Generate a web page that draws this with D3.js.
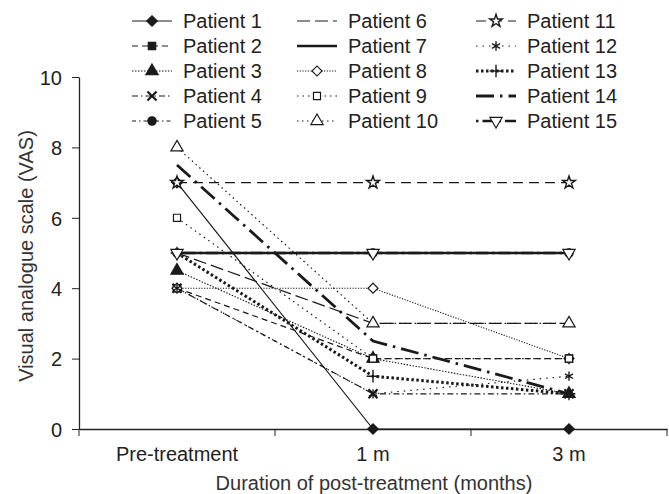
<!DOCTYPE html>
<head>
  <style>
    body { margin: 0; background: #fff; }
    text { font-family: "Liberation Sans", Arial, sans-serif; fill: #222; }
  </style>
</head>
<body>
  <svg id="svg"></svg>
</body>
<script src="https://cdn.jsdelivr.net/npm/d3@7/dist/d3.min.js"></script>
<script>
  var width = 669,
    height = 494;

  // data
  var categories = ["Pre-treatment", "1 m", "3 m"];
  var patients = ["Patient 1", "Patient 2", "Patient 3", "Patient 4", "Patient 5",
    "Patient 6", "Patient 7", "Patient 8", "Patient 9", "Patient 10",
    "Patient 11", "Patient 12", "Patient 13", "Patient 14", "Patient 15"];
  var p1 = [7, 0, 0];
  var p2 = [4, 2, 2];
  var p3 = [4.5, 2, 1];
  var p4 = [4, 1, 1];
  var p5 = [5, 5, 5];
  var p6 = [5, 3, 3];
  var p7 = [5, 5, 5];
  var p8 = [4, 4, 2];
  var p9 = [6, 2, 2];
  var p10 = [8, 3, 3];
  var p11 = [7, 7, 7];
  var p12 = [4, 1, 1.5];
  var p13 = [5, 1.5, 1];
  var p14 = [7.5, 2.5, 1];
  var p15 = [5, 5, 5];
  var yTicks = [0, 2, 4, 6, 8, 10];

  var values = [p1, p2, p3, p4, p5, p6, p7, p8, p9, p10, p11, p12, p13, p14, p15];

  // line style + marker per patient
  var styles = [
    { w: 1.2, dash: null, sym: d3.symbolSquare, size: 55, fill: true, rot: 45 },
    { w: 1.2, dash: "6,4", sym: d3.symbolSquare, size: 55, fill: true },
    { w: 1.1, dash: "1.5,1.5", sym: d3.symbolTriangle, size: 65, fill: true },
    { w: 1.2, dash: "6,3,1.5,3", sym: d3.symbolX, size: 55, fill: false, stroke: 2.2 },
    { w: 1.2, dash: "4,3,1.5,3", sym: d3.symbolCircle, size: 55, fill: true },
    { w: 1.2, dash: "13,5", sym: null },
    { w: 2.4, dash: null, sym: null },
    { w: 1.1, dash: "1.2,1.5", sym: d3.symbolSquare, size: 50, fill: false, rot: 45 },
    { w: 1.2, dash: "1.5,4", sym: d3.symbolSquare, size: 50, fill: false },
    { w: 1.2, dash: "1.5,3.5", sym: d3.symbolTriangle, size: 65, fill: false },
    { w: 1.2, dash: "10,6", sym: d3.symbolStar, size: 50, fill: false, stroke: 1.4 },
    { w: 1.2, dash: "1.5,5", sym: d3.symbolAsterisk, size: 60, fill: false, stroke: 1.4 },
    { w: 3, dash: "2.5,2.5", sym: d3.symbolPlus, size: 55, fill: false, stroke: 1.4 },
    { w: 2.8, dash: "18,6,2.5,6", sym: null },
    { w: 2.6, dash: "2.5,4,12,4", sym: d3.symbolTriangle, size: 65, fill: false, rot: 180 }
  ];

  var svg = d3.select("#svg").attr("width", width).attr("height", height);

  var x = d3.scaleBand().domain(categories).range([79, 667]);
  var y = d3.scaleLinear().domain([0, 10]).range([429, 77]);

  // Y AXIS
  var yAxis = svg.append("g")
    .attr("transform", "translate(79,0)")
    .call(d3.axisLeft(y).tickValues(yTicks).tickSize(7).tickPadding(10).tickSizeOuter(0));
  yAxis.selectAll("text").style("font-size", "20px").attr("dy", "0.36em");

  // X AXIS (ticks on band boundaries)
  var xAxis = svg.append("g")
    .attr("transform", "translate(0,429)")
    .call(d3.axisBottom(x).tickSize(0).tickPadding(18).tickSizeOuter(0));
  xAxis.selectAll("text").style("font-size", "20px");
  var bounds = d3.range(categories.length + 1).map(function (i) { return x.range()[0] + i * x.step(); });
  xAxis.selectAll(".bound")
    .data(bounds)
    .enter()
    .append("line")
    .attr("x1", function (d) { return d; })
    .attr("x2", function (d) { return d; })
    .attr("y1", 0)
    .attr("y2", 7)
    .attr("stroke", "#222");
  svg.selectAll(".domain").attr("stroke", "#222").attr("stroke-width", 1.3);
  svg.selectAll(".tick line").attr("stroke", "#222");
  svg.selectAll(".tick text").attr("fill", "#222");

  // axis titles
  svg.append("text")
    .attr("x", 374)
    .attr("y", 490)
    .attr("text-anchor", "middle")
    .style("font-size", "20px")
    .style("fill", "#333")
    .text("Duration of post-treatment (months)");
  svg.append("text")
    .attr("transform", "translate(33,256) rotate(-90)")
    .attr("text-anchor", "middle")
    .style("font-size", "20px")
    .style("fill", "#333")
    .text("Visual analogue scale (VAS)");

  var line = d3.line()
    .x(function (d, i) { return x(categories[i]) + x.bandwidth() / 2; })
    .y(function (d) { return y(d); });

  // LINES
  svg.append("g")
    .selectAll("path")
    .data(values)
    .enter()
    .append("path")
    .attr("d", line)
    .attr("fill", "none")
    .attr("stroke", "#1a1a1a")
    .attr("stroke-width", function (d, i) { return styles[i].w; })
    .attr("stroke-dasharray", function (d, i) { return styles[i].dash; });

  function drawMarker(g, s, cx, cy) {
    if (!s.sym) return;
    g.append("path")
      .attr("d", d3.symbol().type(s.sym).size(s.size)())
      .attr("transform", "translate(" + cx + "," + cy + ")" + (s.rot ? " rotate(" + s.rot + ")" : ""))
      .attr("fill", s.fill ? "#1a1a1a" : (s.sym === d3.symbolX || s.sym === d3.symbolAsterisk || s.sym === d3.symbolPlus ? "none" : "#fff"))
      .attr("stroke", "#1a1a1a")
      .attr("stroke-width", s.stroke || 1.2);
  }

  // MARKERS
  var marks = svg.append("g");
  values.forEach(function (v, i) {
    v.forEach(function (d, j) {
      drawMarker(marks, styles[i], x(categories[j]) + x.bandwidth() / 2, y(d));
    });
  });

  // LEGEND
  var colX = [132, 297, 476];
  var rowY = [21, 46, 71, 96, 121];
  var legend = svg.append("g");
  patients.forEach(function (name, i) {
    var c = Math.floor(i / 5),
      r = i % 5,
      lx = colX[c],
      ly = rowY[r];
    var s = styles[i];
    legend.append("line")
      .attr("x1", lx)
      .attr("x2", lx + 40)
      .attr("y1", ly)
      .attr("y2", ly)
      .attr("stroke", "#1a1a1a")
      .attr("stroke-width", s.w)
      .attr("stroke-dasharray", s.dash);
    drawMarker(legend, s, lx + 20, ly);
    legend.append("text")
      .attr("x", lx + 51)
      .attr("y", ly)
      .attr("dy", "0.36em")
      .style("font-size", "20px")
      .text(name);
  });
</script>
